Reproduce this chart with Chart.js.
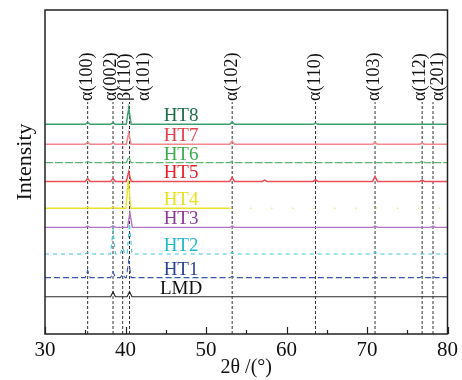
<!DOCTYPE html>
<html>
<head>
<meta charset="utf-8">
<script src="https://cdn.jsdelivr.net/npm/chart.js@4.4.0/dist/chart.umd.min.js"></script>
<style>
  html, body { margin: 0; padding: 0; background: #fff; }
  #wrap { width: 462px; height: 380px; }
</style>
</head>
<body>
<div id="wrap"><canvas id="chart" width="462" height="380"></canvas></div>
<script>
const ctx = document.getElementById('chart');

// ejes
const xTicks = [30, 40, 50, 60, 70, 80];
const xMinorTicks = [35, 45, 55, 65, 75];

// picos de referencia (líneas discontinuas)
const peakNames = ['α(100)', 'α(002)', 'β(110)', 'α(101)', 'α(102)', 'α(110)', 'α(103)', 'α(112)', 'α(201)'];
const peakPos = [35.3, 38.45, 39.65, 40.5, 53.25, 63.6, 71.0, 76.85, 78.2];
const peakLabelPos = [35.3, 38.2, 40.0, 42.3, 53.3, 63.6, 70.9, 76.6, 78.8];
const peakLineTop = 71.6;

// muestras y desplazamiento vertical de cada curva
const samples = ['LMD', 'HT1', 'HT2', 'HT3', 'HT4', 'HT5', 'HT6', 'HT7', 'HT8'];
const baselines = [11.5, 17.4, 24.7, 32.9, 38.8, 47.1, 52.9, 58.6, 64.7];
const lineColors = ['#2a2a2a', '#3a55b0', '#45c6d6', '#b277c2', '#e9e22a', '#ee4c57', '#5cb870', '#f28890', '#3f9e6e'];
const textColors = ['#111111', '#2a3f9a', '#22b8cc', '#8a3a9a', '#e8e020', '#e8202a', '#3aac4a', '#e8404a', '#1b6e45'];

// [posición 2θ, altura] de los picos de cada muestra
const lmdPeaks = [[38.45, 1.5], [40.5, 1.6]];
const ht1Peaks = [[35.3, 2.2], [38.45, 1.8], [39.65, 1.0], [40.4, 5.2], [53.25, 0.4], [76.85, 0.4], [78.2, 0.4]];
const ht2Peaks = [[35.3, 0.5], [38.45, 7.4], [39.65, 2.0], [40.5, 9.5], [53.25, 0.5], [71.0, 0.6]];
const ht3Peaks = [[35.3, 0.4], [38.45, 0.5], [40.55, 4.5], [53.25, 0.4], [71.0, 0.4], [78.2, 0.4]];
const ht4Peaks = [[35.3, 0.3], [38.45, 0.4], [40.35, 8.7], [53.25, 0.3], [71.0, 0.3]];
const ht5Peaks = [[35.3, 0.9], [38.45, 0.9], [40.4, 3.0], [53.25, 1.2], [57.3, 0.4], [63.6, 0.5], [71.0, 1.5], [76.85, 0.4]];
const ht6Peaks = [[35.3, 0.4], [38.45, 0.5], [40.4, 1.8], [53.25, 0.5], [76.85, 0.6]];
const ht7Peaks = [[35.3, 0.6], [38.45, 0.4], [40.4, 3.5], [53.25, 1.0], [71.0, 0.5], [76.85, 0.3]];
const ht8Peaks = [[35.3, 0.6], [38.45, 0.6], [40.4, 5.0], [53.25, 0.7], [63.6, 0.4]];
const allPeaks = [lmdPeaks, ht1Peaks, ht2Peaks, ht3Peaks, ht4Peaks, ht5Peaks, ht6Peaks, ht7Peaks, ht8Peaks];

const dashes = [[], [6, 3], [4, 4], [], [], [], [8, 2], [], []];
const widths = [1.2, 1.1, 1.1, 1.4, 1.4, 1.5, 1.2, 1.5, 1.5];

function buildCurve(base, peaks) {
  const pts = [{ x: 30, y: base }];
  peaks.forEach(([p, h]) => {
    pts.push({ x: p - 0.3, y: base });
    pts.push({ x: p, y: base + h });
    pts.push({ x: p + 0.3, y: base });
  });
  pts.push({ x: 80, y: base });
  return pts;
}

const datasets = samples.map((name, i) => ({
  label: name,
  data: buildCurve(baselines[i], allPeaks[i]),
  borderColor: lineColors[i],
  borderWidth: widths[i],
  borderDash: dashes[i],
  pointRadius: 0,
  tension: 0,
  segment: name === 'HT4'
    ? { borderDash: c => (c.p0.parsed.x > 41 ? [1, 20] : undefined) }
    : undefined
}));

peakPos.forEach((p, i) => {
  datasets.push({
    label: peakNames[i],
    data: [{ x: p, y: 0 }, { x: p, y: peakLineTop }],
    borderColor: '#333',
    borderWidth: 1,
    borderDash: [3, 2],
    pointRadius: 0
  });
});

const serif = '"Liberation Serif", "Times New Roman", serif';

const decor = {
  id: 'decor',
  afterDraw(chart) {
    const c = chart.ctx;
    const a = chart.chartArea;
    const xs = chart.scales.x, ys = chart.scales.y;
    c.save();
    // marco
    c.strokeStyle = '#222';
    c.lineWidth = 1.5;
    c.strokeRect(a.left, a.top, a.right - a.left, a.bottom - a.top);
    // marcas del eje x
    c.lineWidth = 1.2;
    xTicks.forEach(v => {
      const px = Math.round(xs.getPixelForValue(v)) + 0.5;
      c.beginPath(); c.moveTo(px, a.bottom); c.lineTo(px, a.bottom - 7); c.stroke();
    });
    xMinorTicks.forEach(v => {
      const px = Math.round(xs.getPixelForValue(v)) + 0.5;
      c.beginPath(); c.moveTo(px, a.bottom); c.lineTo(px, a.bottom - 4); c.stroke();
    });
    // etiquetas de picos
    c.fillStyle = '#111';
    c.font = '18px ' + serif;
    c.textAlign = 'left';
    c.textBaseline = 'middle';
    peakNames.forEach((t, i) => {
      const px = xs.getPixelForValue(peakLabelPos[i]);
      const py = ys.getPixelForValue(peakLineTop) - 1;
      c.save();
      c.translate(px, py);
      c.rotate(-Math.PI / 2);
      c.fillText(t, 0, 0);
      c.restore();
    });
    // nombres de las muestras
    c.font = '19px ' + serif;
    c.textAlign = 'center';
    samples.forEach((t, i) => {
      const px = xs.getPixelForValue(46.9);
      const py = ys.getPixelForValue(baselines[i]) - 8;
      c.fillStyle = textColors[i];
      c.fillText(t, px, py);
    });
    // título del eje y
    c.fillStyle = '#111';
    c.font = '22px ' + serif;
    c.translate(25, 162);
    c.rotate(-Math.PI / 2);
    c.fillText('Intensity', 0, 0);
    c.restore();
  }
};

new Chart(ctx, {
  type: 'line',
  data: { datasets: datasets },
  options: {
    responsive: false,
    animation: false,
    events: [],
    layout: { padding: { top: 10, right: 14, left: 0, bottom: 0 } },
    plugins: { legend: { display: false }, tooltip: { enabled: false } },
    scales: {
      x: {
        type: 'linear',
        min: 30,
        max: 80,
        afterFit: s => { s.height = 46; },
        afterBuildTicks: s => { s.ticks = xTicks.map(v => ({ value: v })); },
        grid: { display: false, drawTicks: false },
        border: { display: false },
        ticks: { color: '#111', padding: 4, font: { family: serif, size: 21 } },
        title: {
          display: true,
          text: '2θ /(°)',
          color: '#111',
          padding: { top: 0, bottom: 0 },
          font: { family: serif, size: 20 }
        }
      },
      y: {
        min: 0,
        max: 100,
        afterFit: s => { s.width = 45; },
        grid: { display: false, drawTicks: false },
        border: { display: false },
        ticks: { display: false }
      }
    }
  },
  plugins: [decor]
});
</script>
</body>
</html>
